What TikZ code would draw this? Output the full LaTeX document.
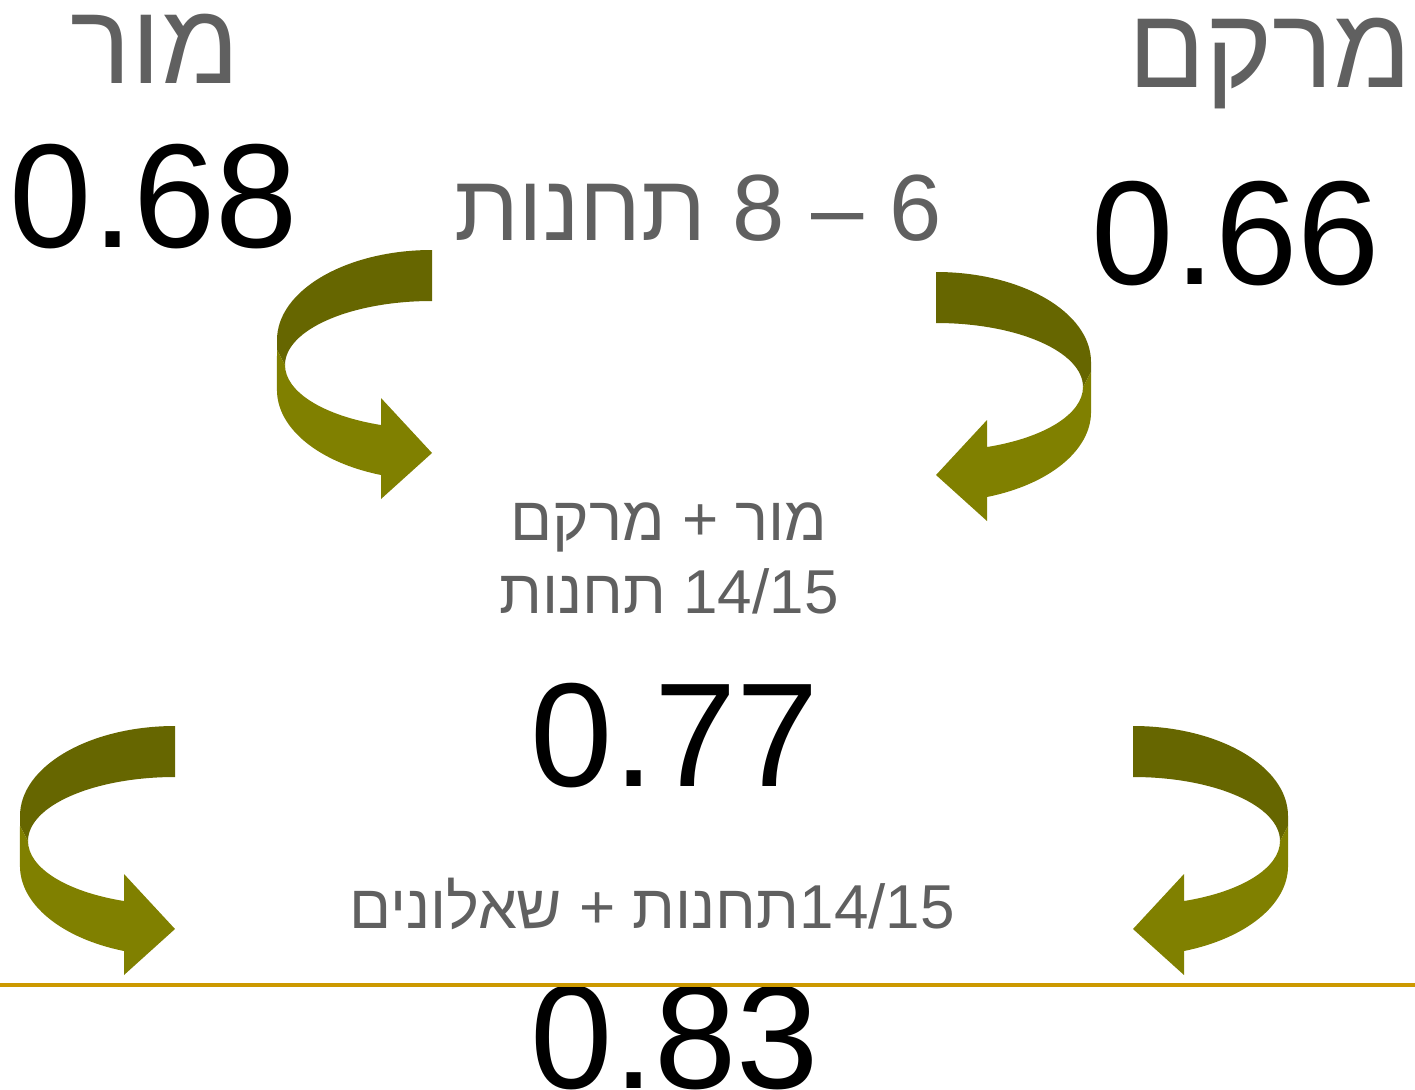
\documentclass[tikz,border=0pt]{standalone}
\usepackage{fontspec}
\setmainfont{Liberation Sans}
\newfontfamily\hebfont[Script=Hebrew]{Liberation Sans}
\TeXXeTstate=1
\definecolor{bandtop}{RGB}{102,102,0}
\definecolor{bandlow}{RGB}{128,128,0}
\definecolor{labelgray}{RGB}{96,96,96}
\definecolor{rulegold}{RGB}{204,153,0}
\newcommand{\turnarrow}{%
	\fill[bandtop] (0,0) arc[start angle=270, end angle=180, x radius=155, y radius=90]
		-- (-155,100) -- (-147,115)
		arc[start angle=180, end angle=270, x radius=147, y radius=64] -- cycle;
	\fill[bandlow] (-147,115) arc[start angle=180, end angle=110.3, x radius=147, y radius=64]
		-- (-51,148) -- (0,203) -- (-51,249) -- (-51,225)
		arc[start angle=109.2, end angle=180, x radius=155, y radius=90]
		-- (-155,100) -- cycle;}
\tikzset{
	persontitle/.style = {font=\hebfont\fontsize{114}{120}\selectfont, text=labelgray, inner sep=0pt, anchor=base},
	score/.style = {font=\fontsize{148}{160}\selectfont, text=black, inner sep=0pt, anchor=base},
	stations/.style = {font=\hebfont\fontsize{94}{100}\selectfont, text=labelgray, inner sep=0pt, anchor=base},
	note/.style = {font=\hebfont\fontsize{62}{70}\selectfont, text=labelgray, inner sep=0pt, anchor=base}
}
\begin{document}
\begin{tikzpicture}[x=1pt, y=-1pt]
			\useasboundingbox (0,0) rectangle (1415,1089);
			\clip (0,0) rectangle (1415,1089);
			% arrows
			\begin{scope}[shift={(432,250)}] \turnarrow \end{scope}
			\begin{scope}[shift={(936,272)}, xscale=-1] \turnarrow \end{scope}
			\begin{scope}[shift={(175,726)}] \turnarrow \end{scope}
			\begin{scope}[shift={(1133,726)}, xscale=-1] \turnarrow \end{scope}
			% texts
			\node[persontitle] (morTitle) at (155,84) {\beginR מור\endR};
			\node[persontitle] (mrkTitle) at (1270,88) {\beginR מרקם\endR};
			\node[score] (morScore) at (154,247) {0.68};
			\node[score] (mrkScore) at (1236,284) {0.66};
			\node[stations] (stationsLabel) at (698,240) {\beginR 6 – 8 תחנות\endR};
			\node[note] (mixNames) at (669,540) {\beginR מור + מרקם\endR};
			\node[note] (mixStations) at (669,613) {\beginR\beginL 14/15\endL{} תחנות\endR};
			\node[score] (mixScore) at (675,786) {0.77};
			\node[note] (fullLabel) at (652,928) {\beginR\beginL 14/15\endL{}תחנות + שאלונים\endR};
			\node[score] (fullScore) at (675,1088) {0.83};
			% rule
			\coordinate (ruleL) at (0,985);
			\coordinate (ruleR) at (1415,985);
			\draw[rulegold, line width=3.5pt] (ruleL) -- (ruleR);
		\end{tikzpicture}
\end{document}
